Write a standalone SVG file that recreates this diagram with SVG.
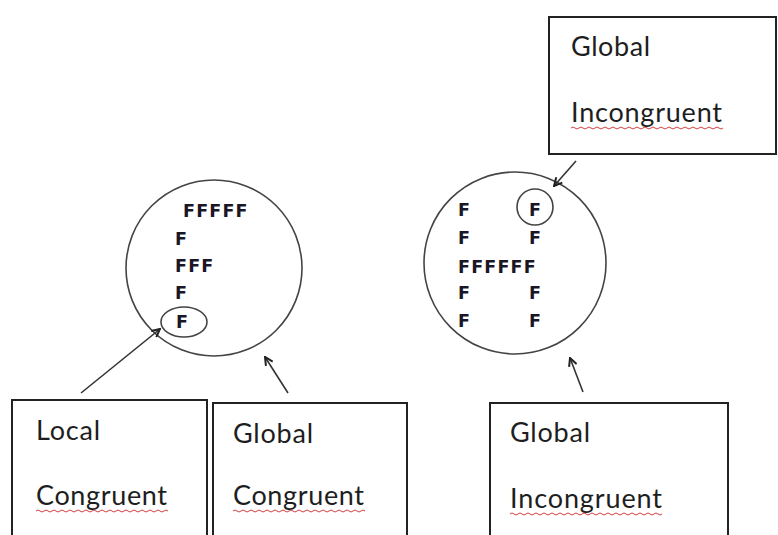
<svg xmlns="http://www.w3.org/2000/svg" width="778" height="535" viewBox="0 0 778 535">
<defs>
<style>
.box{fill:#fff;stroke:#222;stroke-width:2}
.ring{fill:none;stroke:#444;stroke-width:1.6}
.lbl{font-family:Lato,"Open Sans",sans-serif;font-size:27px;fill:#1e1e1e}
.ff{font-family:"DejaVu Sans",Verdana,sans-serif;font-weight:bold;font-size:17.5px;fill:#1a1626;letter-spacing:1.2px}
.conn{stroke:#333;stroke-width:1.6;fill:none}
.sq{stroke:#d04040;stroke-width:1;fill:none}
</style>
<marker id="ah" viewBox="0 0 10 10" refX="9" refY="5" markerWidth="10" markerHeight="10" markerUnits="userSpaceOnUse" orient="auto">
<polyline points="1,1 9,5 1,9" fill="none" stroke="#222" stroke-width="2"/>
</marker>
</defs>
<rect width="778" height="535" fill="#fff"/>

<g id="circle-left">
<circle class="ring" cx="214" cy="268" r="88"/>
<ellipse class="ring" cx="184" cy="322" rx="23" ry="15"/>
<text class="ff" x="183" y="217">FFFFF</text>
<text class="ff" x="175" y="245">F</text>
<text class="ff" x="175" y="272">FFF</text>
<text class="ff" x="175" y="299">F</text>
<text class="ff" x="176" y="328">F</text>
</g>

<g id="circle-right">
<circle class="ring" cx="515" cy="263" r="91"/>
<circle class="ring" cx="535" cy="207" r="18"/>
<text class="ff" x="458" y="216">F</text>
<text class="ff" x="529" y="216">F</text>
<text class="ff" x="458" y="244">F</text>
<text class="ff" x="529" y="244">F</text>
<text class="ff" x="458" y="273">FFFFFF</text>
<text class="ff" x="458" y="299">F</text>
<text class="ff" x="529" y="299">F</text>
<text class="ff" x="458" y="327">F</text>
<text class="ff" x="529" y="327">F</text>
</g>

<g id="box-top-right">
<rect class="box" x="549" y="17" width="227" height="137"/>
<text class="lbl" x="571" y="56" textLength="79">Global</text>
<text class="lbl" x="571" y="122" textLength="151">Incongruent</text>
<path class="sq" d="M571,128 q2,-2 4,0 t4,0 t4,0 t4,0 t4,0 t4,0 t4,0 t4,0 t4,0 t4,0 t4,0 t4,0 t4,0 t4,0 t4,0 t4,0 t4,0 t4,0 t4,0 t4,0 t4,0 t4,0 t4,0 t4,0 t4,0 t4,0 t4,0 t4,0 t4,0 t4,0 t4,0 t4,0 t4,0 t4,0 t4,0 t4,0 t4,0 t4,0"/>
</g>

<g id="box-local-congruent">
<rect class="box" x="12" y="400" width="195" height="145"/>
<text class="lbl" x="36" y="440" textLength="64">Local</text>
<text class="lbl" x="36" y="505" textLength="131">Congruent</text>
<path class="sq" d="M36,511 q2,-2 4,0 t4,0 t4,0 t4,0 t4,0 t4,0 t4,0 t4,0 t4,0 t4,0 t4,0 t4,0 t4,0 t4,0 t4,0 t4,0 t4,0 t4,0 t4,0 t4,0 t4,0 t4,0 t4,0 t4,0 t4,0 t4,0 t4,0 t4,0 t4,0 t4,0 t4,0 t4,0 t4,0"/>
</g>

<g id="box-global-congruent">
<rect class="box" x="213" y="403" width="194" height="145"/>
<text class="lbl" x="233" y="443" textLength="80">Global</text>
<text class="lbl" x="233" y="505" textLength="131">Congruent</text>
<path class="sq" d="M233,511 q2,-2 4,0 t4,0 t4,0 t4,0 t4,0 t4,0 t4,0 t4,0 t4,0 t4,0 t4,0 t4,0 t4,0 t4,0 t4,0 t4,0 t4,0 t4,0 t4,0 t4,0 t4,0 t4,0 t4,0 t4,0 t4,0 t4,0 t4,0 t4,0 t4,0 t4,0 t4,0 t4,0 t4,0"/>
</g>

<g id="box-global-incongruent">
<rect class="box" x="490" y="403" width="238" height="145"/>
<text class="lbl" x="510" y="442" textLength="80">Global</text>
<text class="lbl" x="510" y="508" textLength="152">Incongruent</text>
<path class="sq" d="M510,514 q2,-2 4,0 t4,0 t4,0 t4,0 t4,0 t4,0 t4,0 t4,0 t4,0 t4,0 t4,0 t4,0 t4,0 t4,0 t4,0 t4,0 t4,0 t4,0 t4,0 t4,0 t4,0 t4,0 t4,0 t4,0 t4,0 t4,0 t4,0 t4,0 t4,0 t4,0 t4,0 t4,0 t4,0 t4,0 t4,0 t4,0 t4,0 t4,0"/>
</g>

<g id="connectors">
<line class="conn" x1="81" y1="393" x2="160" y2="329" marker-end="url(#ah)"/>
<line class="conn" x1="288" y1="393" x2="265" y2="357" marker-end="url(#ah)"/>
<line class="conn" x1="583" y1="392" x2="570" y2="358" marker-end="url(#ah)"/>
<line class="conn" x1="576" y1="161" x2="554" y2="186" marker-end="url(#ah)"/>
</g>
</svg>
